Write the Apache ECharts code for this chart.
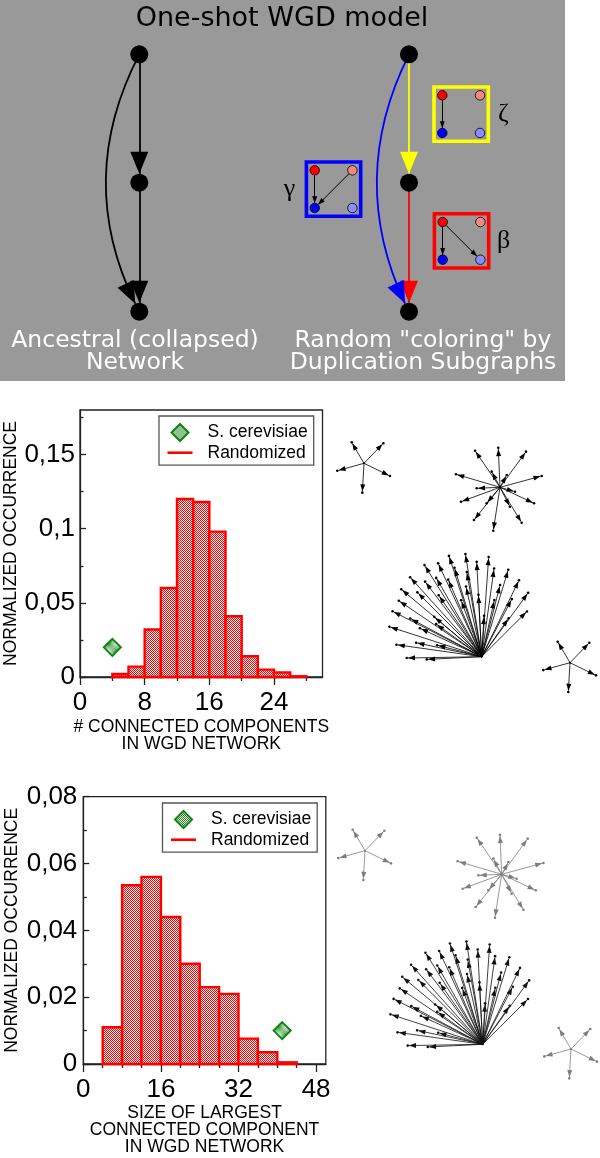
<!DOCTYPE html>
<html><head><meta charset="utf-8">
<script src="https://cdn.jsdelivr.net/npm/echarts@6/dist/echarts.min.js"></script>
<style>html,body{margin:0;padding:0;background:#fff}#c{width:600px;height:1158px}</style>
</head><body><div id="c"></div>
<script>
// ---------------- data: histogram 1 (# connected components) ----------------
const hist1BinEdges = [4, 6, 8, 10, 12, 14, 16, 18, 20, 22, 24, 26, 28];
const hist1Values   = [0.002, 0.007, 0.032, 0.060, 0.120, 0.118, 0.098, 0.041, 0.014, 0.005, 0.003, 0.0005];
const hist1Observed = [[4, 0.02]];
const hist1XTicks = [0, 8, 16, 24];
const hist1XMinor = [4, 12, 20, 28];
const hist1YTicks = [0, 0.05, 0.1, 0.15];
const hist1YMinor = [0.025, 0.075, 0.125, 0.175];

// ---------------- data: histogram 2 (size of largest component) ----------------
const hist2BinEdges = [4, 8, 12, 16, 20, 24, 28, 32, 36, 40, 44];
const hist2Values   = [0.011, 0.0535, 0.056, 0.044, 0.030, 0.023, 0.021, 0.0076, 0.0035, 0.0005];
const hist2Observed = [[41, 0.01]];
const hist2XTicks = [0, 16, 32, 48];
const hist2XMinor = [4, 8, 12, 20, 24, 28, 36, 40, 44];
const hist2YTicks = [0, 0.02, 0.04, 0.06, 0.08];
const hist2YMinor = [0.01, 0.03, 0.05, 0.07];

// ---------------- diagram: one-shot WGD model ----------------
const diagramNodes = [
  ['L1', 139.3, 54.3], ['L2', 139.3, 182.7], ['L3', 139.3, 311.7],
  ['R1', 409, 54.3],   ['R2', 409, 182.7],   ['R3', 409, 311.7]
];
const diagramEdges = [
  ['L1', 'L2', '#000000', 0], ['L2', 'L3', '#000000', 0], ['L1', 'L3', '#000000', -0.26],
  ['R1', 'R2', '#ffff00', 0], ['R2', 'R3', '#ff0000', 0], ['R1', 'R3', '#0000ff', -0.25]
];
// duplication subgraph motifs: r=red, p=pink, b=blue, lb=light blue
const motifBoxes = [
  {label: 'ζ', frame: '#ffff00', origin: [442.3, 95.3], edges: [['r', 'b']], side: 'right'},
  {label: 'γ', frame: '#0000ff', origin: [314.7, 170.3], edges: [['r', 'b'], ['p', 'b']], side: 'left'},
  {label: 'β', frame: '#ff0000', origin: [442.7, 222], edges: [['r', 'b'], ['r', 'lb']], side: 'right'}
];
const motifNodeKinds = [['r', 0, 0, '#ff0000'], ['p', 1, 0, '#f28a84'], ['b', 0, 1, '#0000ff'], ['lb', 1, 1, '#8c8cff']];
const motifSpacing = 37.7;

// ---------------- network illustrations: rays [angle deg, length px] ----------------
const starSmallRays = [[120.4, 24.3], [46, 27.8], [195.5, 27.7], [334, 28.9], [266.7, 29.4]];
const starMediumRays = [[92.5, 39.6], [124.3, 44.3], [53.9, 44.1], [163.5, 45.9], [15.2, 43.2], [200.3, 41.6],
  [334.8, 37.6], [231.5, 41.8], [301.5, 41.5], [261.2, 43.9], [182.5, 23.3], [343.6, 15.6],
  [118, 17.7], [61.4, 14], [230, 20.8], [297, 21.8]];
const starFanRays = [[181, 75], [172, 86], [162, 97], [153, 100], [146, 100], [140, 105], [132, 107], [122, 108],
  [115, 103], [108, 106], [99, 104], [93, 95], [86, 100], [82, 89], [73, 91], [64, 85], [54, 79], [45, 64],
  [135, 91], [127, 94], [120, 91], [113.5, 84], [107, 93], [100, 86], [102.6, 72], [93, 62], [86.7, 41],
  [77.4, 58], [75.6, 74], [62.4, 65], [55, 47], [151.9, 81], [155.3, 68], [144.4, 56], [168, 67],
  [165.5, 46], [182.8, 55], [140, 62], [125, 75], [110, 60]];
const starLayout = [
  {rays: starSmallRays, hub: [364, 463.3], color: '#000'},
  {rays: starMediumRays, hub: [500, 487.3], color: '#000'},
  {rays: starFanRays, hub: [481.7, 656.7], color: '#000'},
  {rays: starSmallRays, hub: [570, 662.7], color: '#000'},
  {rays: starSmallRays, hub: [365, 850.7], color: '#7d7d7d'},
  {rays: starMediumRays, hub: [501.7, 874.3], color: '#7d7d7d'},
  {rays: starFanRays, hub: [482.7, 1044.3], color: '#111'},
  {rays: starSmallRays, hub: [571, 1049], color: '#7d7d7d'}
];

// ---------------- helpers ----------------
function checker(c) {
  const cv = document.createElement('canvas');
  cv.width = 2; cv.height = 2;
  const g = cv.getContext('2d');
  g.fillStyle = '#ffffff'; g.fillRect(0, 0, 2, 2);
  g.fillStyle = c; g.fillRect(0, 0, 1, 1); g.fillRect(1, 1, 1, 1);
  return {image: cv, repeat: 'repeat'};
}
const redFill = checker('#ff0000');
const greenFill = checker('#1b8a1b');
const SANS = '"Liberation Sans", Arial, Helvetica, sans-serif';
// arrowhead inside a square box of side 2*len: tip at the box centre, body behind it
function arrowPath(len, wid) {
  const s = 2 * len, c = len;
  return 'path://M0,0M' + s + ',' + s + 'M' + c + ',' + c + 'L' + (c + wid / 2) + ',' + s + 'L' + (c - wid / 2) + ',' + s + 'Z';
}
const fmtComma = v => (v === 0 ? '0' : String(v).replace('.', ','));

function histSeries(edges, vals, axisIdx) {
  return {
    type: 'custom', name: 'Randomized', coordinateSystem: 'cartesian2d',
    xAxisIndex: axisIdx, yAxisIndex: axisIdx,
    itemStyle: {color: '#ff0000'},
    encode: {x: [0, 1], y: 2},
    data: vals.map((v, i) => [edges[i], edges[i + 1], v]),
    renderItem(params, api) {
      const p0 = api.coord([api.value(0), api.value(2)]);
      const p1 = api.coord([api.value(1), 0]);
      return {type: 'rect', shape: {x: p0[0], y: p0[1], width: p1[0] - p0[0], height: p1[1] - p0[1]},
        style: {fill: redFill, stroke: '#ff0000', lineWidth: 2.4}};
    }
  };
}
function obsSeries(data, axisIdx) {
  return {type: 'scatter', name: 'S. cerevisiae', xAxisIndex: axisIdx, yAxisIndex: axisIdx, data,
    symbol: 'diamond', symbolSize: 17, z: 5,
    itemStyle: {color: greenFill, borderColor: '#128212', borderWidth: 2, opacity: 1}};
}
const lineSt = {color: '#222', width: 1.3};
function xMajor(grid, max, ticks, name, gap, lh) {
  return {type: 'value', gridIndex: grid, min: 0, max, position: 'bottom',
    axisLine: {show: true, onZero: false, lineStyle: lineSt},
    axisTick: {show: true, inside: false, length: 8, customValues: ticks, lineStyle: lineSt},
    axisLabel: {show: true, customValues: ticks, margin: 13, fontSize: 26, fontFamily: SANS, color: '#000'},
    splitLine: {show: false},
    name, nameLocation: 'middle', nameGap: gap,
    nameTextStyle: {fontSize: 17.5, lineHeight: lh, fontFamily: SANS, color: '#000'}};
}
function xMinor(grid, max, ticks) {
  return {type: 'value', gridIndex: grid, min: 0, max, position: 'bottom',
    axisLine: {show: false, onZero: false}, axisLabel: {show: false}, splitLine: {show: false},
    axisTick: {show: true, inside: false, length: 4, customValues: ticks, lineStyle: lineSt}};
}
function yMajor(grid, max, ticks, gap, margin) {
  return {type: 'value', gridIndex: grid, min: 0, max, position: 'left',
    axisLine: {show: true, onZero: false, lineStyle: lineSt},
    axisTick: {show: true, inside: true, length: 6, customValues: ticks, lineStyle: lineSt},
    axisLabel: {show: true, customValues: ticks, margin, fontSize: 26, fontFamily: SANS, color: '#000', formatter: fmtComma},
    splitLine: {show: false},
    name: 'NORMALIZED OCCURRENCE', nameLocation: 'middle', nameGap: gap, nameRotate: 90,
    nameTextStyle: {fontSize: 17.5, fontFamily: SANS, color: '#000'}};
}
function yMinor(grid, max, ticks) {
  return {type: 'value', gridIndex: grid, min: 0, max, position: 'left', offset: 0,
    axisLine: {show: false, onZero: false}, axisLabel: {show: false}, splitLine: {show: false},
    axisTick: {show: true, inside: true, length: 3.5, customValues: ticks, lineStyle: lineSt}};
}
function makeLegend(left, top) {
  return {left, top, orient: 'vertical', padding: [7, 6, 3.5, 8.5], itemGap: 1.7,
    itemWidth: 25, itemHeight: 17, borderColor: '#555', borderWidth: 1.3, backgroundColor: '#fff',
    selectedMode: false, symbolKeepAspect: true,
    textStyle: {fontSize: 17.5, lineHeight: 18, padding: [0, 0, 0, 10], fontFamily: SANS, color: '#000'},
    data: [{name: 'S. cerevisiae', icon: 'path://M8.5,0L17,8.5L8.5,17L0,8.5Z'},
      {name: 'Randomized', icon: 'path://M0,0L25,0L25,2.6L0,2.6Z', itemStyle: {color: '#ff0000', borderWidth: 0}}]};
}

// ---------------- diagram graphs ----------------
const diagramIndex = {};
const diagramData = diagramNodes.map((n, i) => { diagramIndex[n[0]] = i;
  return {name: n[0], value: [n[1], n[2]], symbolSize: 18, itemStyle: {color: '#000'}}; });
const diagramLinks = diagramEdges.map(e => ({source: diagramIndex[e[0]], target: diagramIndex[e[1]],
  lineStyle: {color: e[2], width: 1.8, curveness: e[3], opacity: 1}}));

const motifData = [], motifLinks = [], motifGraphics = [];
motifBoxes.forEach((box, bi) => {
  const idx = {};
  motifNodeKinds.forEach(k => {
    idx[k[0]] = motifData.length;
    motifData.push({name: 'm' + bi + k[0], value: [box.origin[0] + k[1] * motifSpacing, box.origin[1] + k[2] * motifSpacing],
      symbolSize: 9.5, itemStyle: {color: k[3], borderColor: '#000', borderWidth: 0.8}});
  });
  box.edges.forEach(e => motifLinks.push({source: idx[e[0]], target: idx[e[1]],
    lineStyle: {color: '#000', width: 1, opacity: 1}}));
  const pad = 8.3;
  const x0 = box.origin[0] - pad, y0 = box.origin[1] - pad, w = motifSpacing + 2 * pad, h = motifSpacing + 2 * pad;
  motifGraphics.push({type: 'rect', shape: {x: x0, y: y0, width: w, height: h},
    style: {fill: 'none', stroke: box.frame, lineWidth: 3.6}, z: 1});
  const lx = box.side === 'right' ? x0 + w + 15 : x0 - 17;
  motifGraphics.push({type: 'text', x: lx, y: y0 + h / 2,
    style: {text: box.label, font: '26px "Liberation Serif", "DejaVu Serif", serif', fill: '#000',
      align: 'center', verticalAlign: 'middle', textAlign: 'center', textVerticalAlign: 'middle'}, z: 2});
});

const starData = [], starLinks = [];
starLayout.forEach((s, si) => {
  const hubIdx = starData.length;
  starData.push({name: 's' + si, value: s.hub, symbolSize: 2, itemStyle: {color: s.color}});
  s.rays.forEach((r, ri) => {
    const a = r[0] * Math.PI / 180;
    const li = starData.length;
    starData.push({name: 's' + si + '_' + ri, value: [s.hub[0] + r[1] * Math.cos(a), s.hub[1] - r[1] * Math.sin(a)],
      symbolSize: 2.6, itemStyle: {color: s.color}});
    starLinks.push({source: hubIdx, target: li, lineStyle: {color: s.color, width: 0.8, opacity: 1}});
  });
});

function graphSeries(data, links, len, wid, z) {
  return {type: 'graph', coordinateSystem: 'cartesian2d', xAxisIndex: 4, yAxisIndex: 4, layout: 'none',
    symbol: 'circle', edgeSymbol: ['none', arrowPath(len, wid)], edgeSymbolSize: 2 * len, data, links, z,
    label: {show: false}, emphasis: {disabled: true}, silent: true, lineStyle: {opacity: 1}};
}

const textFont = '"DejaVu Sans", Verdana, sans-serif';
const option = {
  animation: false,
  backgroundColor: '#ffffff',
  grid: [
    {left: 80, top: 410, width: 242.5, height: 267, show: true, borderColor: '#222', borderWidth: 1.3, backgroundColor: 'transparent'},
    {left: 83.3, top: 796.7, width: 242.5, height: 267.3, show: true, borderColor: '#222', borderWidth: 1.3, backgroundColor: 'transparent'},
    {left: 0, top: 0, width: 600, height: 1158, show: false}
  ],
  xAxis: [
    xMajor(0, 30, hist1XTicks, '# CONNECTED COMPONENTS\nIN WGD NETWORK', 42, 16.5),
    xMinor(0, 30, hist1XMinor),
    xMajor(1, 50, hist2XTicks, 'SIZE OF LARGEST\nCONNECTED COMPONENT\nIN WGD NETWORK', 40.5, 17),
    xMinor(1, 50, hist2XMinor),
    {type: 'value', gridIndex: 2, min: 0, max: 600, show: false}
  ],
  yAxis: [
    yMajor(0, 0.18, hist1YTicks, 60, 5),
    yMinor(0, 0.18, hist1YMinor),
    yMajor(1, 0.08, hist2YTicks, 62, 6),
    yMinor(1, 0.08, hist2YMinor),
    {type: 'value', gridIndex: 2, min: 0, max: 1158, inverse: true, show: false}
  ],
  legend: [makeLegend(159, 416), makeLegend(162.5, 803)],
  graphic: [
    {type: 'rect', shape: {x: 0, y: 0, width: 565, height: 381}, style: {fill: '#999999'}, z: -5},
    {type: 'text', x: 282, y: 19, style: {text: 'One-shot WGD model', font: '27px ' + textFont, fill: '#000',
      align: 'center', verticalAlign: 'middle', textAlign: 'center', textVerticalAlign: 'middle'}, z: 2},
    {type: 'text', x: 135, y: 351.5, style: {text: 'Ancestral (collapsed)\nNetwork', font: '23.5px ' + textFont, fill: '#fff',
      lineHeight: 22, align: 'center', verticalAlign: 'middle', textAlign: 'center', textVerticalAlign: 'middle'}, z: 2},
    {type: 'text', x: 423, y: 351.5, style: {text: 'Random "coloring" by\nDuplication Subgraphs', font: '23.5px ' + textFont, fill: '#fff',
      lineHeight: 22, align: 'center', verticalAlign: 'middle', textAlign: 'center', textVerticalAlign: 'middle'}, z: 2}
  ].concat(motifGraphics),
  series: [
    histSeries(hist1BinEdges, hist1Values, 0),
    obsSeries(hist1Observed, 0),
    histSeries(hist2BinEdges, hist2Values, 2),
    obsSeries(hist2Observed, 2),
    graphSeries(diagramData, diagramLinks, 22, 18, 3),
    graphSeries(motifData, motifLinks, 7, 5, 4),
    graphSeries(starData, starLinks, 7, 5, 3)
  ]
};
const chart = echarts.init(document.getElementById('c'), null, {renderer: 'canvas'});
chart.setOption(option);
</script>
</body></html>
